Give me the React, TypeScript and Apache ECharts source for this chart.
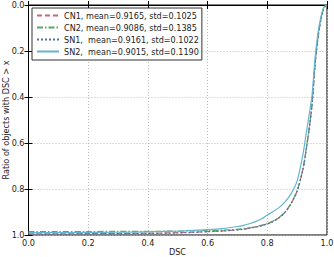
import React, { useEffect, useRef } from "react";
import * as echarts from "echarts";

const xs = [0, 0.1, 0.2, 0.3, 0.4, 0.5, 0.55, 0.6, 0.65, 0.7, 0.72, 0.74, 0.76, 0.78, 0.8, 0.82, 0.84, 0.86, 0.88, 0.9, 0.92, 0.93, 0.94, 0.95, 0.96, 0.97, 0.98, 0.99, 1.0];

const cn1 = [0.995, 0.995, 0.994, 0.993, 0.992, 0.99, 0.988, 0.985, 0.982, 0.977, 0.974, 0.97, 0.965, 0.959, 0.951, 0.94, 0.924, 0.9, 0.862, 0.808, 0.71, 0.63, 0.54, 0.43, 0.26, 0.14, 0.06, 0.012, 0];
const cn2 = [0.985, 0.985, 0.985, 0.984, 0.984, 0.983, 0.982, 0.981, 0.979, 0.975, 0.973, 0.969, 0.964, 0.958, 0.95, 0.939, 0.923, 0.899, 0.861, 0.806, 0.708, 0.628, 0.538, 0.428, 0.258, 0.138, 0.058, 0.011, 0];
const sn1 = [0.996, 0.996, 0.995, 0.994, 0.993, 0.991, 0.989, 0.986, 0.983, 0.978, 0.975, 0.971, 0.966, 0.96, 0.952, 0.941, 0.925, 0.901, 0.863, 0.81, 0.712, 0.632, 0.542, 0.432, 0.262, 0.142, 0.062, 0.012, 0];
const sn2 = [0.99, 0.99, 0.989, 0.988, 0.986, 0.983, 0.98, 0.977, 0.972, 0.963, 0.958, 0.951, 0.942, 0.93, 0.913, 0.898, 0.88, 0.855, 0.82, 0.765, 0.645, 0.56, 0.48, 0.39, 0.23, 0.12, 0.05, 0.008, 0];

const names = [
  "CN1, mean=0.9165, std=0.1025",
  "CN2, mean=0.9086, std=0.1385",
  "SN1,  mean=0.9161, std=0.1022",
  "SN2,  mean=0.9015, std=0.1190",
];
const xTitle = "DSC";
const yTitle = "Ratio of objects with DSC > x";
const colors = ["#d0666a", "#55A868", "#4C72B0", "#64B5CD"];
const dashes: any[] = [[5, 3], [6, 2, 1.5, 2], [2, 2], "solid"];
const seriesData = [cn1, cn2, sn1, sn2];

const FONT = "DejaVu Sans";
const FS = 8.1;

export default function App() {
  const ref = useRef<HTMLDivElement>(null);
  useEffect(() => {
    if (!ref.current) return;
    const chart = echarts.init(ref.current, undefined, { renderer: "svg" });
    const fmt = (v: number) => v.toFixed(1);
    const axisCommon = {
      type: "value",
      min: 0,
      max: 1,
      interval: 0.2,
    };
    chart.setOption({
      animation: false,
      backgroundColor: "#fff",
      grid: {
        left: 28.5,
        right: 7,
        top: 5,
        bottom: 22,
        containLabel: false,
        outerBoundsMode: "none",
        show: true,
        borderColor: "#000",
        borderWidth: 1,
        backgroundColor: "transparent",
      },
      graphic: [
        {
          type: "text",
          x: 177.5,
          y: 252,
          style: {
            text: xTitle,
            fontFamily: FONT,
            fontSize: FS,
            fill: "#222",
            align: "center",
            verticalAlign: "middle",
          },
        },
        {
          type: "text",
          x: 5.5,
          y: 120,
          rotation: Math.PI / 2,
          style: {
            text: yTitle,
            fontFamily: FONT,
            fontSize: FS,
            fill: "#222",
            align: "center",
            verticalAlign: "middle",
          },
        },
      ],
      legend: {
        left: 32,
        top: 8,
        orient: "vertical",
        data: names,
        itemWidth: 22,
        itemHeight: 9,
        itemGap: 1,
        padding: [2, 3, 3, 4],
        borderColor: "#333",
        borderWidth: 1,
        backgroundColor: "#fff",
        itemStyle: { opacity: 0 },
        textStyle: { fontFamily: FONT, fontSize: FS, color: "#222", lineHeight: 11, padding: [0, 0, 0, 0] },
      },
      xAxis: [
        {
          ...axisCommon,
          axisLine: { show: true, lineStyle: { color: "#000", width: 1 } },
          axisTick: { show: true, inside: true, length: 4, lineStyle: { color: "#000" } },
          axisLabel: { formatter: fmt, fontFamily: FONT, fontSize: FS, color: "#222", margin: 4 },
          splitLine: { show: true, lineStyle: { color: "#bbb", type: [1, 2], width: 1 } },
        },
        {
          ...axisCommon,
          position: "top",
          axisLine: { show: true, lineStyle: { color: "#000", width: 1 } },
          axisTick: { show: true, inside: true, length: 4, lineStyle: { color: "#000" } },
          axisLabel: { show: false },
          splitLine: { show: false },
        },
      ],
      yAxis: [
        {
          ...axisCommon,
          inverse: true,
          axisLine: { show: true, lineStyle: { color: "#000", width: 1 } },
          axisTick: { show: true, inside: true, length: 4, lineStyle: { color: "#000" } },
          axisLabel: { formatter: fmt, fontFamily: FONT, fontSize: FS, color: "#222", margin: 4 },
          splitLine: { show: true, lineStyle: { color: "#bbb", type: [1, 2], width: 1 } },
        },
        {
          ...axisCommon,
          inverse: true,
          position: "right",
          axisLine: { show: true, lineStyle: { color: "#000", width: 1 } },
          axisTick: { show: true, inside: true, length: 4, lineStyle: { color: "#000" } },
          axisLabel: { show: false },
          splitLine: { show: false },
        },
      ],
      series: seriesData.map((d, i) => ({
        name: names[i],
        type: "line",
        xAxisIndex: 0,
        yAxisIndex: 0,
        data: xs.map((x, j) => [x, d[j]]),
        smooth: 0.3,
        showSymbol: false,
        symbol: "none",
        color: colors[i],
        lineStyle: { color: colors[i], width: 1.2, type: dashes[i] },
        z: i === 3 ? 3 : 2,
      })),
    });
    return () => chart.dispose();
  }, []);
  return (
    <div
      ref={ref}
      style={{ position: "fixed", left: 0, top: 0, width: 334, height: 257 }}
    />
  );
}
